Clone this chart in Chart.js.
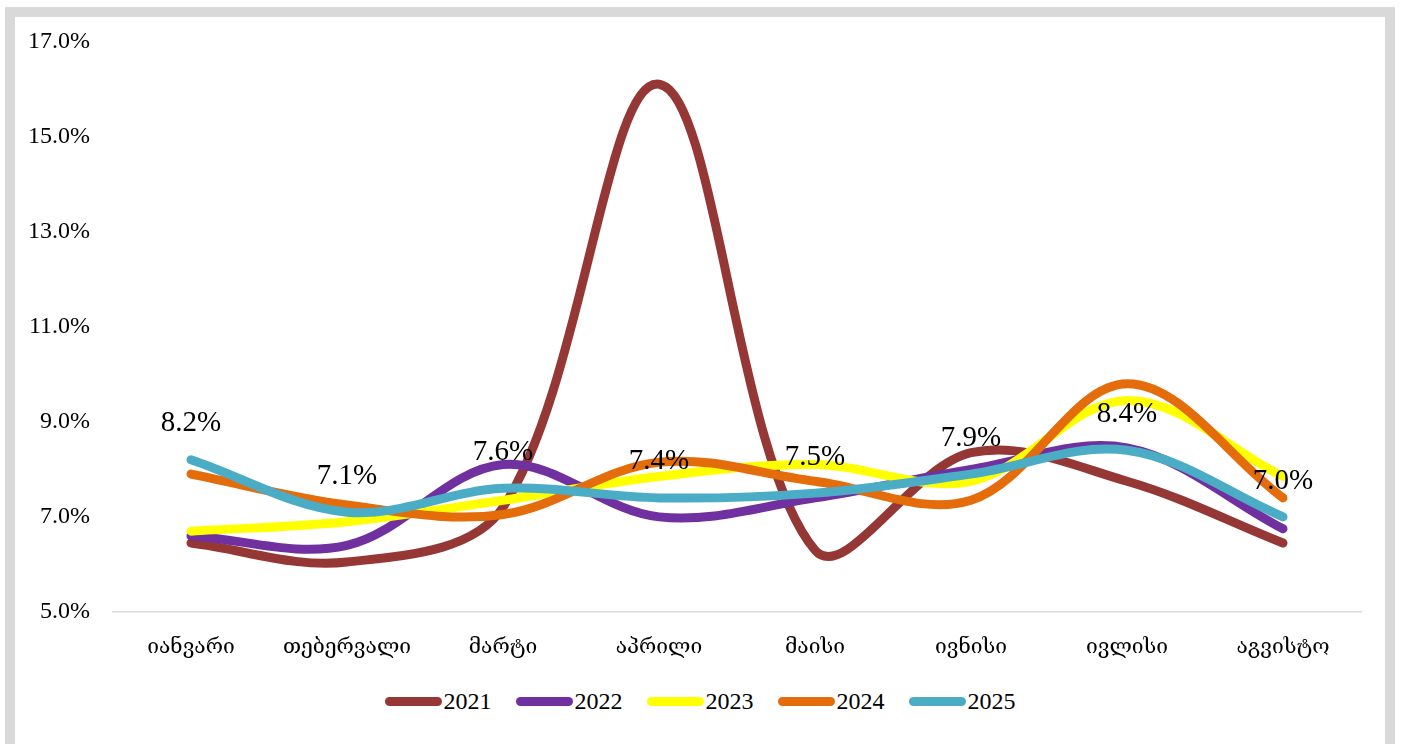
<!DOCTYPE html>
<html>
<head>
<meta charset="utf-8">
<script src="https://cdn.jsdelivr.net/npm/chart.js@4.4.1/dist/chart.umd.min.js"></script>
<style>
    html, body { margin: 0; padding: 0; background: #fff; overflow: hidden; }
    .frame {
        position: absolute; left: 5px; top: 7px;
        width: 1370px; height: 729px;
        border: 10px solid #d9d9d9;
        background: #fff;
        overflow: hidden;
    }
    .chart-box { position: absolute; left: 0; top: -13px; width: 1370px; height: 673px; }
    .legend {
        position: absolute; left: 0; width: 1370px; top: 671px;
        display: flex; justify-content: center; align-items: center;
        font-family: "Liberation Serif", "Times New Roman", serif; font-size: 24px; color: #000;
    }
    .legend .item { display: flex; align-items: center; margin: 0 12px; }
    .legend .mark { width: 57px; height: 9px; border-radius: 5px; margin-right: 2px; }
</style>
</head>
<body>
<div class="frame">
    <div class="chart-box"><canvas id="rateChart" width="1370" height="673"></canvas></div>
    <div class="legend" id="legend"></div>
</div>
<script>
// months (Jan - Aug)
const months = ["იანვარი", "თებერვალი", "მარტი", "აპრილი", "მაისი", "ივნისი", "ივლისი", "აგვისტო"];
const years = ["2021", "2022", "2023", "2024", "2025"];
const colors = ["#953735", "#7030A0", "#FFFF00", "#E46C0A", "#4BACC6"];

const y2021 = [6.45, 6.05, 7.2, 16.1, 6.3, 8.35, 7.75, 6.45];
const y2022 = [6.6, 6.4, 8.1, 7.0, 7.4, 8.0, 8.45, 6.75];
const y2023 = [6.7, 6.9, 7.35, 7.85, 8.1, 7.75, 9.45, 7.85];
const y2024 = [7.9, 7.25, 7.05, 8.15, 7.75, 7.35, 9.8, 7.4];
const y2025 = [8.2, 7.1, 7.6, 7.4, 7.5, 7.9, 8.4, 7.0];

const yTicks = [5, 7, 9, 11, 13, 15, 17];

const series = [y2021, y2022, y2023, y2024, y2025];
const serif = "'Liberation Serif', 'Times New Roman', serif";

// value labels above the last year's line
const valueLabels = {
    id: "valueLabels",
    afterDatasetsDraw(chart) {
        const idx = series.length - 1;
        const meta = chart.getDatasetMeta(idx);
        const ctx = chart.ctx;
        ctx.save();
        ctx.font = "29px " + serif;
        ctx.fillStyle = "#000";
        ctx.textAlign = "center";
        ctx.textBaseline = "middle";
        meta.data.forEach((pt, i) => {
            ctx.fillText(series[idx][i].toFixed(1) + "%", pt.x, pt.y - 36);
        });
        ctx.restore();
    }
};

const datasets = series.map((data, i) => ({
    label: years[i],
    data: data,
    borderColor: colors[i],
    backgroundColor: colors[i],
    borderWidth: 9,
    borderCapStyle: "round",
    borderJoinStyle: "round",
    tension: 0.35,
    pointRadius: 0,
    fill: false,
    order: series.length - i
}));

const ctx = document.getElementById("rateChart").getContext("2d");
let rateChart = new Chart(ctx, {
    type: "line",
    data: { labels: months, datasets: datasets },
    plugins: [valueLabels],
    options: {
        responsive: false,
        animation: false,
        layout: { padding: { left: 0, top: 10, right: 24, bottom: 0 } },
        plugins: {
            legend: { display: false },
            tooltip: { enabled: false }
        },
        scales: {
            x: {
                offset: true,
                grid: { display: false, drawTicks: false },
                border: { display: true, color: "#d9d9d9", width: 1.5 },
                ticks: {
                    padding: 23,
                    color: "#000",
                    font: { family: "'DejaVu Serif', serif", size: 21 }
                },
                afterFit: (scale) => { scale.height = 65; }
            },
            y: {
                min: 5,
                max: 17,
                afterBuildTicks: (scale) => { scale.ticks = yTicks.map(v => ({ value: v })); },
                grid: { display: false, drawTicks: false },
                border: { display: false },
                ticks: {
                    padding: 23,
                    color: "#000",
                    font: { family: serif, size: 24 },
                    callback: (v) => v.toFixed(1) + "%"
                },
                afterFit: (scale) => { scale.width = 98; }
            }
        }
    }
});

// legend below the chart
const legend = document.getElementById("legend");
years.forEach((year, i) => {
    const item = document.createElement("div");
    item.className = "item";
    item.innerHTML = `<span class="mark" style="background:${colors[i]}"></span><span>${year}</span>`;
    legend.appendChild(item);
});
</script>
</body>
</html>
